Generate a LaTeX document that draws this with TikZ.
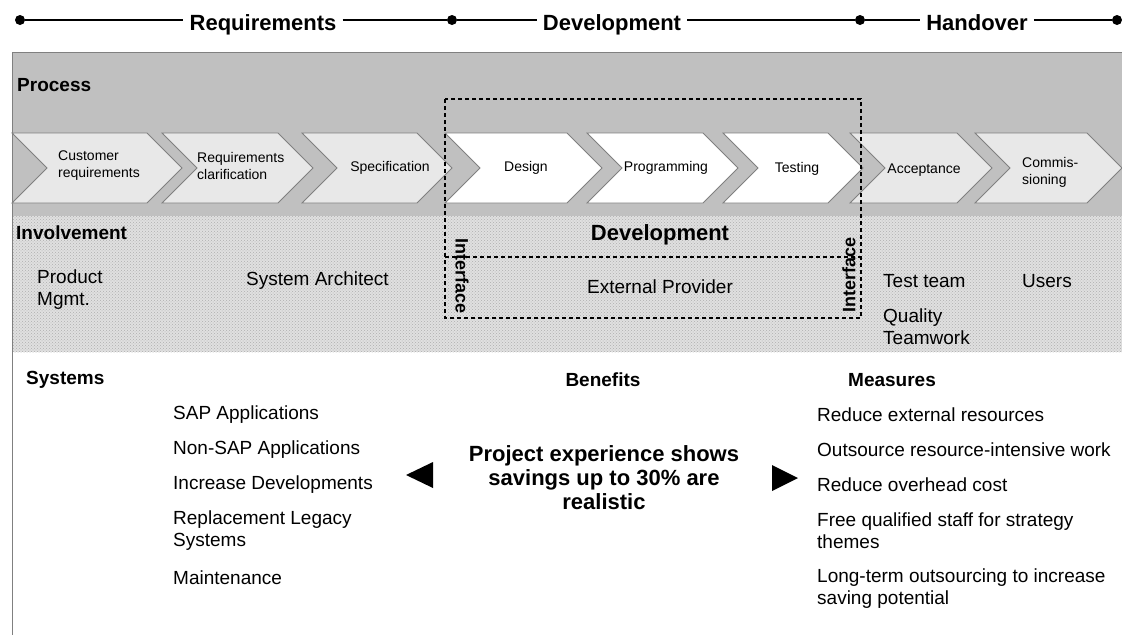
\documentclass[tikz,border=0pt]{standalone}
\usepackage{fontspec}
\setmainfont{Liberation Sans}
\usetikzlibrary{positioning,patterns}
\definecolor{panelgray}{RGB}{192,192,192}
\definecolor{chevgray}{RGB}{232,232,232}
\definecolor{dotgray}{RGB}{224,224,224}
\definecolor{stipple}{RGB}{175,175,175}
\definecolor{edgegray}{RGB}{128,128,128}
\newcommand{\chevron}[3]{\draw[chev, fill=#3] (#1,133) -- ({#2-35},133) -- (#2,168) -- ({#2-35},203) -- (#1,203) -- ({#1+35},168) -- cycle;}

\begin{document}
\begin{tikzpicture}[x=1pt, y=-1pt]
    \tikzstyle{dot}=[circle, fill=black, inner sep=0pt, minimum size=10pt]
    \tikzstyle{phase}=[fill=white, inner xsep=6pt, inner ysep=2pt, text height=21pt, text depth=0pt, font=\fontsize{22}{24}\selectfont\bfseries]
    \tikzstyle{timeline}=[line width=1.6pt]
    \tikzstyle{chev}=[draw=edgegray, line width=0.8pt]
    \tikzstyle{steptext}=[font=\fontsize{14}{17}\selectfont, align=left, inner sep=0pt]
    \tikzstyle{head}=[font=\fontsize{19}{22}\selectfont\bfseries, inner sep=0pt]
    \tikzstyle{body}=[font=\fontsize{19}{22}\selectfont, align=left, inner sep=0pt]
    \tikzstyle{dashbox}=[draw=black, line width=1.1pt, dash pattern=on 4pt off 3pt]
    \useasboundingbox (0,0) rectangle (1122,635);

      % time line
      \node[dot] (d1) at (20,20) {};
      \node[dot] (d2) at (452,20) {};
      \node[dot] (d3) at (860,20) {};
      \node[dot] (d4) at (1117,20) {};
      \node[phase] (lreq) at (263,20) {Requirements};
      \node[phase] (ldev) at (612,20) {Development};
      \node[phase] (lhand) at (977,20) {Handover};
      \draw[timeline] (d1) -- (lreq) -- (d2) -- (ldev) -- (d3) -- (lhand) -- (d4);

      % process band
      \fill[panelgray] (12,52) rectangle (1122,216);
      \fill[dotgray] (12,216) rectangle (1122,352);
      \fill[pattern=crosshatch dots, pattern color=stipple] (12,216) rectangle (1122,352);
      \draw[edgegray, line width=0.8pt] (1122,52) -- (12,52) -- (12,635);
      \node[head, anchor=west] (process) at (17,85) {Process};

      \chevron{12}{182}{chevgray}
      \chevron{162}{313}{chevgray}
      \chevron{302}{452}{chevgray}
      \chevron{445}{602}{white}
      \chevron{587}{738}{white}
      \chevron{723}{863}{white}
      \chevron{850}{992}{chevgray}
      \chevron{975}{1122}{chevgray}

      \node[steptext, anchor=west] (cust) at (58,166) {Customer\\requirements};
      \node[steptext, anchor=west] (reqc) at (197,166) {Requirements\\clarification};
      \node[steptext] (spec) at (390,168) {Specification};
      \node[steptext] (design) at (526,168) {Design};
      \node[steptext] (prog) at (666,168) {Programming};
      \node[steptext] (test) at (797,169) {Testing};
      \node[steptext] (accept) at (924,170) {Acceptance};
      \node[steptext, anchor=west] (comm) at (1022,172) {Commis-\\sioning};

      % involvement
      \node[head, anchor=west] (involve) at (16,233) {Involvement};
      \node[body, anchor=west] (prod) at (37,290) {Product\\Mgmt.};
      \node[body, anchor=west] (arch) at (246,281) {System Architect};
      \node[body, anchor=west] (team) at (883,281) {Test team};
      \node[body, anchor=west] (users) at (1022,281) {Users};
      \node[body, anchor=west] (qual) at (883,327) {Quality\\Teamwork};

      % development box
      \draw[dashbox] (445,99) rectangle (861,318);
      \draw[dashbox] (445,257) -- (861,257);
      \node[font=\fontsize{22}{24}\selectfont\bfseries] (devel) at (660,235) {Development};
      \node[body] (ext) at (660,287) {External Provider};
      \node[font=\fontsize{18}{20}\selectfont\bfseries, rotate=-90] (ifl) at (462,276) {Interface};
      \node[font=\fontsize{18}{20}\selectfont\bfseries, rotate=90] (ifr) at (849,275) {Interface};

      % lower part
      \node[head, anchor=west] (systems) at (26,380) {Systems};
      \node[head] (benefits) at (603,380) {Benefits};
      \node[head] (measures) at (892,380) {Measures};

      \node[body, anchor=west] (sys1) at (173,415) {SAP Applications};
      \node[body, anchor=west] (sys2) at (173,450) {Non-SAP Applications};
      \node[body, anchor=west] (sys3) at (173,485) {Increase Developments};
      \node[body, anchor=west] (sys4) at (173,531) {Replacement Legacy\\Systems};
      \node[body, anchor=west] (sys5) at (173,578) {Maintenance};

      \node[body, anchor=west] (mea1) at (817,415) {Reduce external resources};
      \node[body, anchor=west] (mea2) at (817,450) {Outsource resource-intensive work};
      \node[body, anchor=west] (mea3) at (817,485) {Reduce overhead cost};
      \node[body, anchor=west] (mea4) at (817,531) {Free qualified staff for strategy\\themes};
      \node[body, anchor=west] (mea5) at (817,589) {Long-term outsourcing to increase\\saving potential};

      \node[font=\fontsize{22}{24}\selectfont\bfseries, align=center] (claim) at (604,478)
          {Project experience shows\\savings up to 30\% are\\realistic};
      \fill (406,475) -- (433,462) -- (433,488) -- cycle;
      \fill (798,478) -- (772,465) -- (772,491) -- cycle;
\end{tikzpicture}
\end{document}
